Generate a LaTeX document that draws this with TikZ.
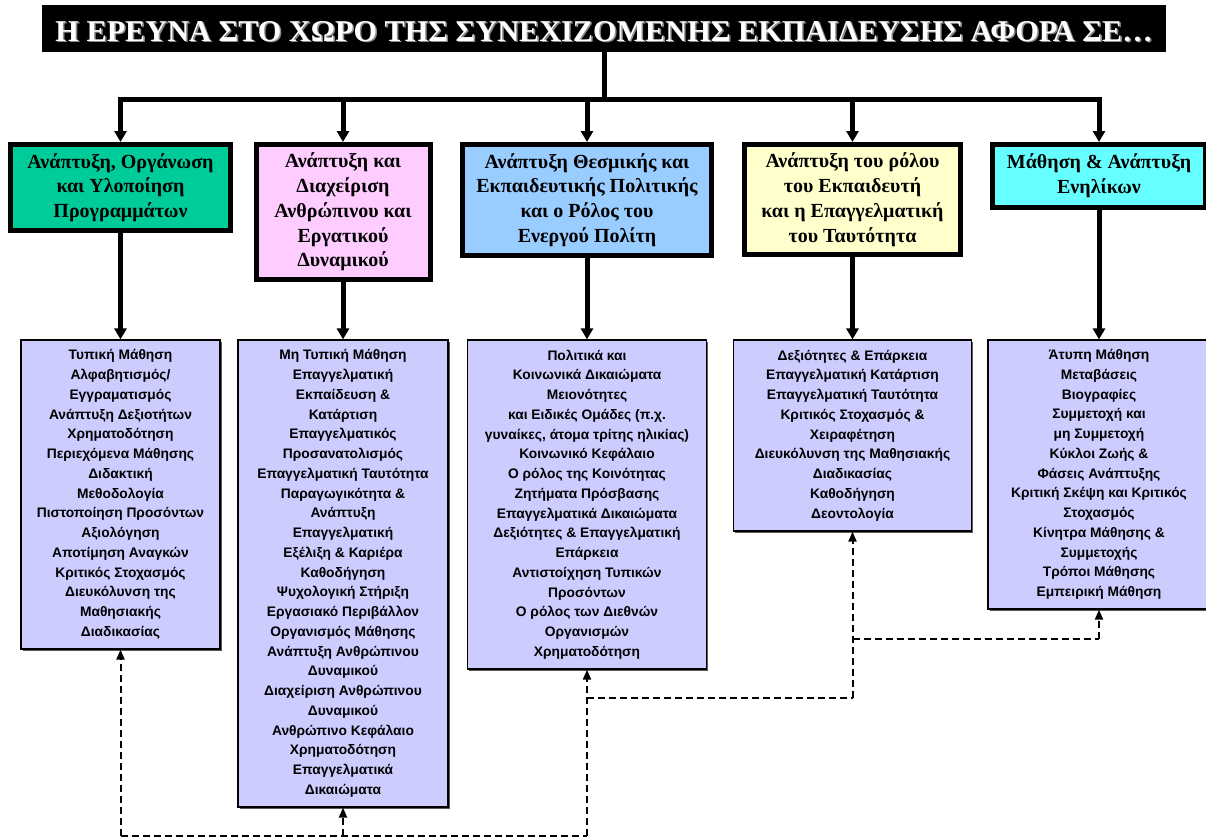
\documentclass[tikz,border=0pt]{standalone}
\usepackage{fontspec}
\setmainfont{Liberation Serif}
\newfontfamily\itemfont{Liberation Sans}
\usetikzlibrary{arrows.meta,shadows}

\definecolor{topgreen}{HTML}{00CC99}
\definecolor{toppink}{HTML}{FFCCFF}
\definecolor{topblue}{HTML}{99CCFF}
\definecolor{topyellow}{HTML}{FFFFCC}
\definecolor{topcyan}{HTML}{66FFFF}
\definecolor{lav}{HTML}{CCCCFF}

\begin{document}
\begin{tikzpicture}[x=1pt,y=-1pt,
  tree/.style={line width=5pt},
  treetip/.style={-{Triangle[length=11pt,width=12pt]}},
  topic/.style={draw, line width=5pt, align=center, inner sep=0pt,
    font=\bfseries\fontsize{20}{24.8}\selectfont},
  itembox/.style={draw, line width=1.2pt, fill=lav, align=center, inner sep=0pt,
    font=\itemfont\bfseries\fontsize{13.8}{19.75}\selectfont,
    drop shadow={shadow xshift=1.5pt, shadow yshift=-1.5pt, opacity=1, fill=black!65}},
  link/.style={line width=2pt, dash pattern=on 7pt off 4pt},
  linktip/.style={-{Triangle[length=10pt,width=8pt]}}
]
\useasboundingbox (0,0) rectangle (1206,839);

% heading bar
\node[fill=black, minimum width=1124pt, minimum height=47pt, inner sep=0pt] (title) at (604,28.5) {};
\node[anchor=base, inner sep=0pt, text=black!45] (titleshade) at (605.5,42.5)
  {\resizebox{1097pt}{20pt}{\bfseries Η ΕΡΕΥΝΑ ΣΤΟ ΧΩΡΟ ΤΗΣ ΣΥΝΕΧΙΖΟΜΕΝΗΣ ΕΚΠΑΙΔΕΥΣΗΣ ΑΦΟΡΑ ΣΕ…}};
\node[anchor=base, inner sep=0pt, text=white] (titletext) at (604,41)
  {\resizebox{1097pt}{20pt}{\bfseries Η ΕΡΕΥΝΑ ΣΤΟ ΧΩΡΟ ΤΗΣ ΣΥΝΕΧΙΖΟΜΕΝΗΣ ΕΚΠΑΙΔΕΥΣΗΣ ΑΦΟΡΑ ΣΕ…}};

% research areas
\node[topic, fill=topgreen, minimum width=220pt, minimum height=86pt] (tg) at (120.5,187.5)
  {Ανάπτυξη, Οργάνωση\\και Υλοποίηση\\Προγραμμάτων};
\node[topic, fill=toppink, minimum width=174pt, minimum height=135pt] (tp) at (343,212)
  {Ανάπτυξη και\\Διαχείριση\\Ανθρώπινου και\\Εργατικού\\Δυναμικού};
\node[topic, fill=topblue, minimum width=249pt, minimum height=111pt] (tb) at (587,200)
  {Ανάπτυξη Θεσμικής και\\Εκπαιδευτικής Πολιτικής\\και ο Ρόλος του\\Ενεργού Πολίτη};
\node[topic, fill=topyellow, minimum width=216pt, minimum height=110pt] (ty) at (852.5,199.5)
  {Ανάπτυξη του ρόλου\\του Εκπαιδευτή\\και η Επαγγελματική\\του Ταυτότητα};
\node[topic, fill=topcyan, minimum width=213pt, minimum height=63pt] (tc) at (1099,176)
  {Μάθηση \& Ανάπτυξη\\Ενηλίκων};

% topic lists
\node[itembox, minimum width=199pt, minimum height=309pt] (l1) at (120.5,494.5)
  {Τυπική Μάθηση\\Αλφαβητισμός/\\Εγγραματισμός\\Ανάπτυξη Δεξιοτήτων\\Χρηματοδότηση\\Περιεχόμενα Μάθησης\\Διδακτική\\Μεθοδολογία\\Πιστοποίηση Προσόντων\\Αξιολόγηση\\Αποτίμηση Αναγκών\\Κριτικός Στοχασμός\\Διευκόλυνση της\\Μαθησιακής\\Διαδικασίας};
\node[itembox, minimum width=210pt, minimum height=467pt] (l2) at (343,573.5)
  {Μη Τυπική Μάθηση\\Επαγγελματική\\Εκπαίδευση \&\\Κατάρτιση\\Επαγγελματικός\\Προσανατολισμός\\Επαγγελματική Ταυτότητα\\Παραγωγικότητα \&\\Ανάπτυξη\\Επαγγελματική\\Εξέλιξη \& Καριέρα\\Καθοδήγηση\\Ψυχολογική Στήριξη\\Εργασιακό Περιβάλλον\\Οργανισμός Μάθησης\\Ανάπτυξη Ανθρώπινου\\Δυναμικού\\Διαχείριση Ανθρώπινου\\Δυναμικού\\Ανθρώπινο Κεφάλαιο\\Χρηματοδότηση\\Επαγγελματικά\\Δικαιώματα};
\node[itembox, minimum width=239pt, minimum height=329pt] (l3) at (587,504.5)
  {Πολιτικά και\\Κοινωνικά Δικαιώματα\\Μειονότητες\\και Ειδικές Ομάδες (π.χ.\\γυναίκες, άτομα τρίτης ηλικίας)\\Κοινωνικό Κεφάλαιο\\Ο ρόλος της Κοινότητας\\Ζητήματα Πρόσβασης\\Επαγγελματικά Δικαιώματα\\Δεξιότητες \& Επαγγελματική\\Επάρκεια\\Αντιστοίχηση Τυπικών\\Προσόντων\\Ο ρόλος των Διεθνών\\Οργανισμών\\Χρηματοδότηση};
\node[itembox, minimum width=238pt, minimum height=191pt] (l4) at (852.5,435.5)
  {Δεξιότητες \& Επάρκεια\\Επαγγελματική Κατάρτιση\\Επαγγελματική Ταυτότητα\\Κριτικός Στοχασμός \&\\Χειραφέτηση\\Διευκόλυνση της Μαθησιακής\\Διαδικασίας\\Καθοδήγηση\\Δεοντολογία};
\node[itembox, minimum width=222pt, minimum height=269pt] (l5) at (1099,474.5)
  {Άτυπη Μάθηση\\Μεταβάσεις\\Βιογραφίες\\Συμμετοχή και\\μη Συμμετοχή\\Κύκλοι Ζωής \&\\Φάσεις Ανάπτυξης\\Κριτική Σκέψη και Κριτικός\\Στοχασμός\\Κίνητρα Μάθησης \&\\Συμμετοχής\\Τρόποι Μάθησης\\Εμπειρική Μάθηση};

% branching from the heading
\coordinate (hub) at (604,99);
\draw[tree] (title.south) -- (hub);
\draw[tree, treetip] (hub) -| (tg.north);
\draw[tree, treetip] (hub) -| (tc.north);
\draw[tree, treetip] (tp.north |- hub) -- (tp.north);
\draw[tree, treetip] (tb.north |- hub) -- (tb.north);
\draw[tree, treetip] (ty.north |- hub) -- (ty.north);

% each area down to its list
\draw[tree, treetip] (tg.south) -- (l1.north);
\draw[tree, treetip] (tp.south) -- (l2.north);
\draw[tree, treetip] (tb.south) -- (l3.north);
\draw[tree, treetip] (ty.south) -- (l4.north);
\draw[tree, treetip] (tc.south) -- (l5.north);

% dashed cross-links between the lists
\coordinate (d1) at (120.5,836);
\coordinate (d2) at (343,836);
\coordinate (d3) at (587,836);
\coordinate (m3) at (587,698);
\coordinate (m4) at (852.5,698);
\coordinate (r4) at (852.5,639);
\coordinate (r5) at (1099,639);
\draw[link] (d1) -- (d3);
\draw[link, linktip] (d1) -- (l1.south);
\draw[link, linktip] (d2) -- (l2.south);
\draw[link, linktip] (d3) -- (l3.south);
\draw[link] (m3) -- (m4);
\draw[link, linktip] (m4) -- (l4.south);
\draw[link] (r4) -- (r5);
\draw[link, linktip] (r5) -- (l5.south);
\end{tikzpicture}
\end{document}
